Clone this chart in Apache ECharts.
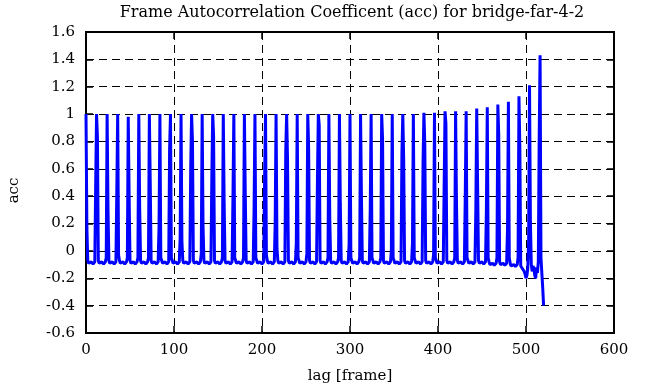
<!DOCTYPE html>
<html>
<head>
<meta charset="utf-8">
<script src="https://cdn.jsdelivr.net/npm/echarts@6/dist/echarts.min.js"></script>
<style>html,body{margin:0;padding:0;background:#fff;}#c{width:646px;height:387px;}</style>
</head>
<body>
<div id="c"></div>
<script>
// ---- data ----
const titleText = 'Frame Autocorrelation Coefficent (acc) for bridge-far-4-2';
const xTicks = [0, 100, 200, 300, 400, 500, 600];
const yTicks = [-0.6, -0.4, -0.2, 0, 0.2, 0.4, 0.6, 0.8, 1, 1.2, 1.4, 1.6];

const spikeLags = [0,12,24,36,48,60,72,84,96,108,120,132,144,156,168,180,192,204,216,228,240,252,264,276,288,300,312,324,336,348,360,372,384,396,408,420,432,444,456,468,480,492,504,516];
const peakAcc = [1.0,1.0,1.0,1.0,0.98,1.0,1.0,1.0,1.0,1.0,1.0,1.0,1.0,1.0,1.0,1.0,1.0,1.0,1.0,1.0,1.0,1.0,1.0,1.0,1.0,1.0,1.0,1.0,1.0,1.0,1.0,1.0,1.01,1.01,1.02,1.02,1.02,1.04,1.05,1.07,1.09,1.13,1.21,1.43];
const preAcc = [null,0.48,-0.05,0.43,-0.05,-0.05,-0.05,0.18,0.74,0.1,0.6,-0.02,0.55,-0.05,0.39,-0.05,0.31,0.55,0.21,0.73,0.06,-0.02,0.51,-0.05,-0.05,0.05,-0.05,0.31,-0.05,0.0,0.71,0.06,0.64,-0.03,0.48,-0.05,0.41,0.3,0.3,-0.05,0.16,-0.05,0.07,0.83];
const postAcc = [0.17,0.83,0.31,-0.03,0.41,0.31,0.5,-0.05,-0.05,0.07,0.8,0.18,0.84,0.34,-0.05,0.41,-0.05,-0.03,0.02,0.67,-0.05,0.75,0.92,0.24,0.34,-0.05,0.4,-0.05,0.82,-0.05,0.67,-0.05,0.78,-0.05,0.93,0.35,-0.05,0.49,-0.05,0.85,-0.05,0.76,0.22,-0.05];
// baseline level between spikes (periods 0..40), and the small ripple seen in each gap (lags +2..+10)
const baseAcc = [-0.09,-0.09,-0.09,-0.09,-0.09,-0.09,-0.09,-0.09,-0.09,-0.09,-0.09,-0.09,-0.09,-0.09,-0.09,-0.09,-0.09,-0.09,-0.09,-0.09,-0.09,-0.09,-0.09,-0.09,-0.09,-0.09,-0.09,-0.09,-0.09,-0.09,-0.09,-0.09,-0.09,-0.09,-0.09,-0.09,-0.09,-0.09,-0.1,-0.1,-0.11];
const ripple = [0.02,0.0,-0.005,0.005,0.01,0.005,-0.005,0.0,0.01];
const gap492 = [-0.11,-0.12,-0.13,-0.12,-0.15,-0.17,-0.2,-0.18,-0.13];
const gap504 = [-0.1,-0.15,-0.11,-0.13,-0.18,-0.2,-0.12,-0.16,-0.08];
const endAcc = [-0.16,-0.27,-0.4];

// ---- assemble series ----
const pts = [];
for (let k = 0; k < spikeLags.length; k++) {
  const L = spikeLags[k];
  if (preAcc[k] !== null) pts.push([L - 1, preAcc[k]]);
  pts.push([L, peakAcc[k]]);
  pts.push([L + 1, postAcc[k]]);
  let gap = null;
  if (k < baseAcc.length) gap = ripple.map(r => +(baseAcc[k] + r).toFixed(3));
  else if (L === 492) gap = gap492;
  else if (L === 504) gap = gap504;
  else gap = endAcc;
  gap.forEach((v, j) => pts.push([L + 2 + j, v]));
}

const serif = '"DejaVu Serif","Liberation Serif",serif';
const chart = echarts.init(document.getElementById('c'), null, {renderer: 'canvas'});
const dashed = {show: true, lineStyle: {color: '#000', type: [8, 5], width: 1}};
const frame = {show: true, onZero: false, lineStyle: {color: '#000', width: 2}};
const ticks = {show: true, inside: true, length: 7, lineStyle: {color: '#000', width: 1.5}};
chart.setOption({
  animation: false,
  backgroundColor: '#fff',
  title: {text: titleText, left: 347, textAlign: 'center', top: 0,
    textStyle: {fontFamily: serif, fontWeight: 'normal', fontSize: 16, color: '#000'}},
  grid: {left: 86, right: 32, top: 32, bottom: 54, containLabel: false, outerBoundsMode: 'none',
    show: true, borderColor: '#000', borderWidth: 2, backgroundColor: 'transparent'},
  xAxis: [{
    type: 'value', min: xTicks[0], max: xTicks[xTicks.length - 1], interval: 100,
    name: 'lag [frame]', nameLocation: 'middle', nameGap: 36,
    nameTextStyle: {fontFamily: serif, fontSize: 15, color: '#000'},
    axisLine: frame, axisTick: ticks,
    axisLabel: {fontFamily: serif, fontSize: 15, color: '#000', margin: 10},
    splitLine: dashed
  }, {
    type: 'value', position: 'top', min: xTicks[0], max: xTicks[xTicks.length - 1], interval: 100,
    axisLine: frame, axisTick: ticks,
    axisLabel: {show: false}, splitLine: {show: false}
  }],
  yAxis: [{
    type: 'value', min: yTicks[0], max: yTicks[yTicks.length - 1], interval: 0.2,
    name: 'acc', nameLocation: 'middle', nameGap: 64, nameRotate: 90,
    nameTextStyle: {fontFamily: serif, fontSize: 15, color: '#000', padding: [0, 16, 0, 0]},
    axisLine: frame, axisTick: ticks,
    axisLabel: {fontFamily: serif, fontSize: 15, color: '#000', margin: 11,
      formatter: v => String(+(+v).toFixed(1))},
    splitLine: dashed
  }, {
    type: 'value', position: 'right', min: yTicks[0], max: yTicks[yTicks.length - 1], interval: 0.2,
    axisLine: frame, axisTick: ticks,
    axisLabel: {show: false}, splitLine: {show: false}
  }],
  series: [{
    type: 'line', data: pts, showSymbol: false, symbol: 'none',
    lineStyle: {color: '#0000ff', width: 3}, itemStyle: {color: '#0000ff'},
    clip: false, z: 5
  }]
});
</script>
</body>
</html>
